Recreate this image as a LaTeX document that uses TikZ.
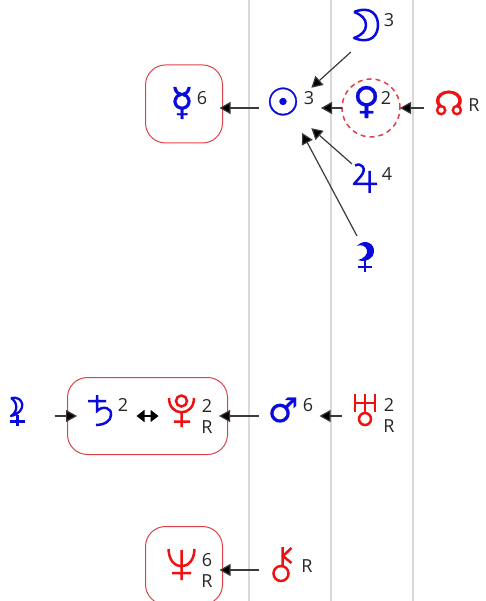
\documentclass[tikz,border=0pt]{standalone}
\usepackage{fontspec}
\setmainfont{Open Sans}
\newfontfamily\symfont[FakeBold=0.7]{DejaVu Sans}
\usetikzlibrary{arrows.meta}
\definecolor{gridgrey}{HTML}{D9D9D9}
\definecolor{boxred}{HTML}{E0404A}
\definecolor{symblue}{HTML}{0A0ADC}
\definecolor{symred}{HTML}{EE1111}
\definecolor{linkgrey}{HTML}{3A3A3A}
\tikzset{
  gridline/.style={draw=gridgrey,line width=1.6pt},
  groupbox/.style={draw=boxred,line width=1pt,rounded corners=20pt,anchor=north west,inner sep=0pt},
  port/.style={circle,inner sep=0pt,outer sep=0pt},
  bsym/.style={text=symblue,inner sep=0pt,font=\symfont\fontsize{34}{34}\selectfont},
  rsym/.style={text=symred,inner sep=0pt,font=\symfont\fontsize{34}{34}\selectfont},
  bdraw/.style={draw=symblue,line width=2.5pt},
  rdraw/.style={draw=symred,line width=2.5pt},
  num/.style={text=black!85,inner sep=0pt,font=\fontsize{18}{18}\selectfont},
  link/.style={draw=linkgrey,line width=1.2pt,-{Triangle[length=11pt,width=12pt,fill=black]}},
  duallink/.style={draw=black,line width=1.4pt,{Triangle[length=8pt,width=12pt,fill=black]}-{Triangle[length=8pt,width=12pt,fill=black]}},
}
\begin{document}
\begin{tikzpicture}[x=1pt,y=-1pt]
\useasboundingbox (0,0) rectangle (485,601);
\draw[gridline] (249,0) -- (249,601);
\draw[gridline] (331,0) -- (331,601);
\draw[gridline] (413,0) -- (413,601);
% boxes
\begin{scope}
\clip (0,0) rectangle (485,601);
\node[groupbox,minimum width=77pt,minimum height=78pt] (mercbox) at (145,64.5) {};
\node[groupbox,minimum width=160pt,minimum height=77pt] (satbox) at (67,377) {};
\node[groupbox,minimum width=77pt,minimum height=78pt] (nepbox) at (145,526) {};
\end{scope}
% symbols set as text
\node[num] (moonn) at (389,20) {3};
\node[bsym,scale=1.12] (sunglyph) at (283,101.5) {☉};
\node[num] (sunn) at (309,98) {3};
\node[bsym,scale=1.1] (venusglyph) at (366.5,102) {♀};
\node[num] (venusn) at (386,98) {2};
\node[rsym] (nodeglyph) at (449,103) {☊};
\node[num] (noder) at (474,105) {R};
\node[bsym,scale=1.12] (merc) at (182,103) {☿};
\node[num] (mercn) at (202,98) {6};
\node[bsym] (mars) at (283,410) {♂};
\node[num] (marsn) at (308,405) {6};
\node[num] (nepn) at (207,560) {6};
\node[num] (nepr) at (207,581) {R};
\node[num] (chironr) at (307,566) {R};
\node[num] (jupn) at (387,174) {4};
\node[num] (satn) at (123,405) {2};
\node[num] (pluton) at (207,406) {2};
\node[num] (plutor) at (207,427) {R};
\node[num] (urann) at (389,405) {2};
\node[num] (uranr) at (389,426) {R};
% symbols no installed font has in this form
\draw[bdraw,line join=round] (354,12) .. controls (372,5) and (378,16) .. (378,25) .. controls (378,34) and (372,45) .. (354,38) .. controls (362,35) and (366,31) .. (366,25) .. controls (366,19) and (362,15) .. (354,12);
\draw[bdraw,line join=round] (355,165.5) .. controls (362,162) and (367,169) .. (361,176) -- (354,184) -- (377,184) (369.5,171) -- (369.5,193);
\fill[symblue] (357,246) .. controls (364,238) and (375,243) .. (374,252) .. controls (374,258) and (366,263) .. (358,260) .. controls (364,259) and (368,254) .. (367,250) .. controls (366,246) and (361,244) .. (357,246);
\draw[bdraw] (365,259) -- (365,272) (358,267) -- (372,267);
\draw[bdraw,line width=2.3pt,line join=round] (11,398) .. controls (24,395) and (28,412) .. (11,416) .. controls (18,412) and (18,402) .. (11,398);
\draw[bdraw,line width=2.3pt] (17.5,415) -- (17.5,426) (10,421.5) -- (25,421.5);
\draw[bdraw] (97,395) -- (97,411) .. controls (103,405) and (112,408) .. (111,415) .. controls (111,421) and (104,425) .. (96,425) (88,401) -- (106,401);
\draw[rdraw] (181.5,401) circle[radius=5.5];
\draw[rdraw] (169,398) .. controls (169,417) and (194,417) .. (194,398) (181.5,412) -- (181.5,427) (174,421.5) -- (190,421.5);
\draw[rdraw] (355,394) -- (355,412) (375,394) -- (375,412) (355,403) -- (375,403) (365,394) -- (365,413);
\draw[rdraw] (365,419) circle[radius=6];
\draw[rdraw] (168.5,549) .. controls (169,572) and (194,572) .. (194.5,549) (181.5,550) -- (181.5,580) (172,573) -- (191,573);
\draw[rdraw] (281,573.5) circle[radius=7.5];
\draw[rdraw] (282.5,547) -- (282.5,566) (291.5,548) -- (283,556) -- (291.5,563);
% ports
\node[port,minimum size=52pt] (sun) at (295,108) {};
\node[port,minimum size=58pt,draw=boxred,line width=1.5pt,dash pattern=on 5pt off 4pt] (venus) at (371,108) {};
\node[port,minimum size=52pt] (nodep) at (450,108) {};
\node[port,minimum size=70pt] (moonp) at (372,24) {};
\node[port,minimum size=46pt] (jupp) at (370,178) {};
\node[port,minimum size=47pt] (lilp) at (365,258) {};
\node[port] (pallasp) at (54,416) {};
\node[port] (marsw) at (259,416) {};
\node[port] (marse) at (319,416) {};
\node[port] (uranp) at (342,416) {};
\node[port] (satp) at (136,416) {};
\node[port] (plutop) at (159,416) {};
\node[port] (chironp) at (259,570) {};
% links
\draw[link] (moonp.233) -- (sun.51);
\draw[link] (venus.180) -- (sun.0);
\draw[link] (nodep.180) -- (venus.0);
\draw[link] (jupp.142) -- (sun.309);
\draw[link] (lilp.110) -- (sun.286);
\draw[link,shorten <=10pt,shorten >=-3.5pt] (sun.180) -- (sun.180 -| mercbox.east);
\draw[link,shorten >=-10pt] (pallasp) -- (pallasp -| satbox.west);
\draw[link,shorten >=-9pt] (marsw) -- (marsw -| satbox.east);
\draw[link] (uranp) -- (marse);
\draw[duallink] (satp) -- (plutop);
\draw[link,shorten >=-3.5pt] (chironp) -- (chironp -| nepbox.east);
\end{tikzpicture}
\end{document}
